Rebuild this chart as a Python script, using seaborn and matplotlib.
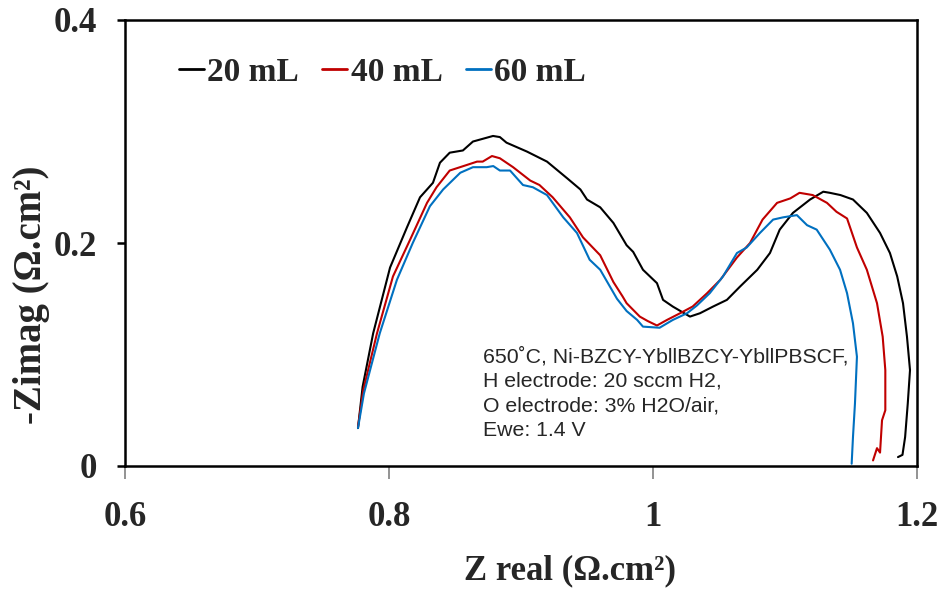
import numpy as np
import pandas as pd
import seaborn as sns
import matplotlib
matplotlib.use("Agg")
import matplotlib.pyplot as plt

# ---- data ----
zr_20 = [0.7765, 0.780, 0.788, 0.8008, 0.8136, 0.8235, 0.8333, 0.8386, 0.846, 0.856, 0.8636, 0.8788, 0.884,
         0.889, 0.9045, 0.9197, 0.935, 0.945, 0.950, 0.960, 0.970, 0.980, 0.985, 0.9924, 1.003, 1.0076, 1.015,
         1.028, 1.0356, 1.0455, 1.056, 1.066, 1.079, 1.0886, 1.096, 1.106, 1.119, 1.129, 1.134, 1.142, 1.1515,
         1.162, 1.172, 1.1795, 1.185, 1.1894, 1.1924, 1.1947, 1.193, 1.191, 1.189, 1.1856]
zi_20 = [0.034, 0.071, 0.119, 0.178, 0.214, 0.241, 0.254, 0.272, 0.281, 0.283, 0.291, 0.296, 0.295,
         0.290, 0.282, 0.273, 0.258, 0.248, 0.239, 0.232, 0.218, 0.198, 0.192, 0.176, 0.164, 0.149, 0.143,
         0.134, 0.137, 0.143, 0.149, 0.161, 0.176, 0.191, 0.212, 0.227, 0.239, 0.246, 0.245, 0.243, 0.239,
         0.227, 0.209, 0.191, 0.170, 0.146, 0.116, 0.086, 0.056, 0.026, 0.010, 0.008]

zr_40 = [0.7765, 0.7805, 0.7909, 0.803, 0.816, 0.8288, 0.836, 0.846, 0.859, 0.8667, 0.871, 0.878, 0.884,
         0.894, 0.907, 0.914, 0.924, 0.937, 0.947, 0.960, 0.970, 0.977, 0.980, 0.985, 0.990, 0.996, 1.003,
         1.0106, 1.0205, 1.030, 1.041, 1.051, 1.0636, 1.0735, 1.083, 1.094, 1.104, 1.111, 1.121, 1.1318,
         1.139, 1.147, 1.1545, 1.162, 1.1697, 1.174, 1.176, 1.176, 1.1735, 1.172, 1.1697, 1.1667]
zi_40 = [0.035, 0.068, 0.119, 0.170, 0.203, 0.236, 0.250, 0.265, 0.270, 0.273, 0.273, 0.278, 0.276,
         0.268, 0.256, 0.252, 0.241, 0.223, 0.205, 0.189, 0.165, 0.152, 0.146, 0.140, 0.134, 0.130, 0.126,
         0.131, 0.137, 0.143, 0.155, 0.167, 0.187, 0.200, 0.221, 0.236, 0.240, 0.245, 0.243, 0.236,
         0.228, 0.222, 0.196, 0.176, 0.146, 0.116, 0.086, 0.050, 0.041, 0.012, 0.016, 0.005]

zr_60 = [0.7765, 0.781, 0.793, 0.806, 0.818, 0.831, 0.841, 0.854, 0.8636, 0.874, 0.879, 0.884, 0.8917,
         0.9015, 0.909, 0.9197, 0.932, 0.9424, 0.952, 0.960, 0.9727, 0.980, 0.988, 0.9924, 1.005, 1.015,
         1.0258, 1.0333, 1.043, 1.053, 1.0636, 1.071, 1.081, 1.091, 1.0985, 1.109, 1.1167, 1.124, 1.134,
         1.1417, 1.147, 1.1515, 1.1545, 1.153, 1.1515, 1.1505]
zi_60 = [0.034, 0.065, 0.119, 0.167, 0.200, 0.233, 0.248, 0.263, 0.268, 0.268, 0.269, 0.265, 0.265,
         0.252, 0.250, 0.243, 0.223, 0.209, 0.185, 0.176, 0.150, 0.139, 0.131, 0.125, 0.124, 0.131,
         0.137, 0.144, 0.155, 0.170, 0.191, 0.196, 0.209, 0.221, 0.223, 0.225, 0.216, 0.212, 0.194,
         0.176, 0.155, 0.128, 0.098, 0.056, 0.026, 0.002]

series_labels = ["20 mL", "40 mL", "60 mL"]
series_colors = ["#000000", "#C00000", "#0070C0"]
x_ticks = [0.6, 0.8, 1.0, 1.2]
x_ticklabels = ["0.6", "0.8", "1", "1.2"]
y_ticks = [0.0, 0.2, 0.4]
y_ticklabels = ["0", "0.2", "0.4"]
note_text = ("650˚C, Ni-BZCY-YbllBZCY-YbllPBSCF,\nH electrode: 20 sccm H2,\n"
             "O electrode: 3% H2O/air,\nEwe: 1.4 V")

frames = []
for lab, xs, ys in zip(series_labels, [zr_20, zr_40, zr_60], [zi_20, zi_40, zi_60]):
    frames.append(pd.DataFrame({"zr": xs, "zi": ys, "series": lab}))
df = pd.concat(frames, ignore_index=True)

sns.set_style("ticks")
plt.rcParams["font.family"] = ["Liberation Serif", "DejaVu Serif"]

fig = plt.figure(figsize=(9.42, 5.99), dpi=100)
ax = fig.add_axes([125 / 942, 1 - 466 / 599, 792 / 942, 446 / 599])

sns.lineplot(data=df, x="zr", y="zi", hue="series", hue_order=series_labels,
             palette=series_colors, sort=False, estimator=None, units="series",
             linewidth=1.5, ax=ax, legend=True)

ax.set_xlim(0.6, 1.2)
ax.set_ylim(0, 0.4)
ax.set_xticks(x_ticks)
ax.set_xticklabels(x_ticklabels)
ax.set_yticks(y_ticks)
ax.set_yticklabels(y_ticklabels)

for sp in ax.spines.values():
    sp.set_visible(True)
    sp.set_color("black")
    sp.set_linewidth(1.8)

ax.tick_params(axis="y", direction="out", length=6, width=1.8, color="black", pad=14,
               labelsize=25)
ax.tick_params(axis="x", direction="out", length=9, width=1.2, color="#808080", pad=16,
               labelsize=25)
for t in ax.get_xticklabels() + ax.get_yticklabels():
    t.set_fontweight("bold")

ax.set_xlabel("Z real (Ω.cm²)", fontsize=25, fontweight="bold")
ax.set_ylabel("-Zimag (Ω.cm²)", fontsize=28, fontweight="bold")
ax.xaxis.set_label_coords(0.562, -0.198)
ax.yaxis.set_label_coords(-0.095, 0.385)

leg = ax.legend(loc="upper left", bbox_to_anchor=(0.03, 0.985), ncol=3, frameon=False,
                handlelength=0.75, handletextpad=0.1, columnspacing=0.7,
                prop={"family": "Liberation Serif", "weight": "bold", "size": 24})
for h in leg.get_lines():
    h.set_linewidth(2.0)

ax.text(0.452, 0.268, note_text, transform=ax.transAxes, ha="left", va="top",
        fontsize=15.3, family=["Liberation Sans", "DejaVu Sans"], color="#262626",
        linespacing=1.37)

fig.savefig("out.png", dpi=100)
